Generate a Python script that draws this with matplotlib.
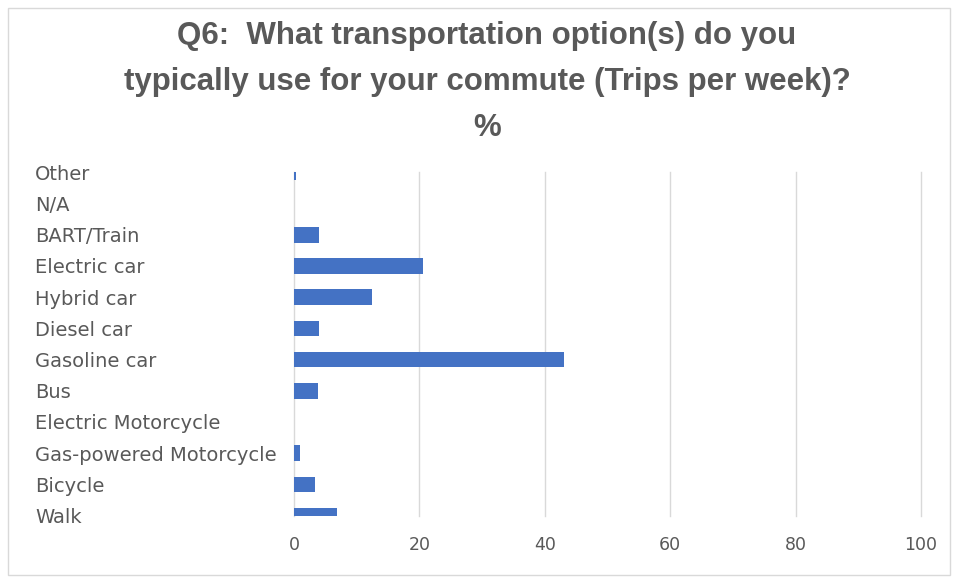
import matplotlib.pyplot as plt
from matplotlib.patches import Rectangle

categories = ["Walk", "Bicycle", "Gas-powered Motorcycle", "Electric Motorcycle", "Bus",
              "Gasoline car", "Diesel car", "Hybrid car", "Electric car", "BART/Train", "N/A", "Other"]
values = [6.9, 3.3, 1.0, 0.0, 3.8, 43.0, 4.0, 12.5, 20.5, 4.0, 0.0, 0.3]
xticks = [0, 20, 40, 60, 80, 100]
title = "Q6:  What transportation option(s) do you\ntypically use for your commute (Trips per week)?\n%"

plt.rcParams['font.family'] = ['DejaVu Sans']
gray = '#595959'

fig = plt.figure(figsize=(9.54, 5.77), dpi=100)
fig.patches.append(Rectangle((8/954, 2/577), 942/954, 567/577, transform=fig.transFigure,
                             fill=False, edgecolor='#d9d9d9', linewidth=1))
ax_top, ax_bot = 172.3, 515.5
ax = fig.add_axes([294/954, 1 - ax_bot/577, (921 - 294)/954, (ax_bot - ax_top)/577])

ypos = list(range(len(categories)))
ax.barh(ypos, values, height=0.5, color='#4472c4', zorder=3)
ax.set_xlim(0, 100)
ax.set_ylim(0, len(categories) - 1)
ax.set_xticks(xticks)
ax.set_xticklabels([str(t) for t in xticks])
ax.set_yticks(ypos)
ax.set_yticklabels(categories)
ax.grid(axis='x', color='#d9d9d9', linewidth=1, zorder=0)
for gl in ax.get_xgridlines():
    gl.set_clip_on(False)
for s in ax.spines.values():
    s.set_visible(False)
ax.tick_params(axis='both', length=0, labelcolor=gray)
ax.tick_params(axis='x', pad=15, labelsize=12.5)
ax.tick_params(axis='y', pad=(294 - 35) * 0.72, labelsize=14)
for lbl in ax.get_yticklabels():
    lbl.set_horizontalalignment('left')

fig.text(487/954, 1 - 82/577, title, ha='center', va='center', fontsize=22.5,
         color=gray, fontweight='bold', linespacing=1.7, family=['Liberation Sans', 'DejaVu Sans'])

fig.savefig('out.png', dpi=100)
